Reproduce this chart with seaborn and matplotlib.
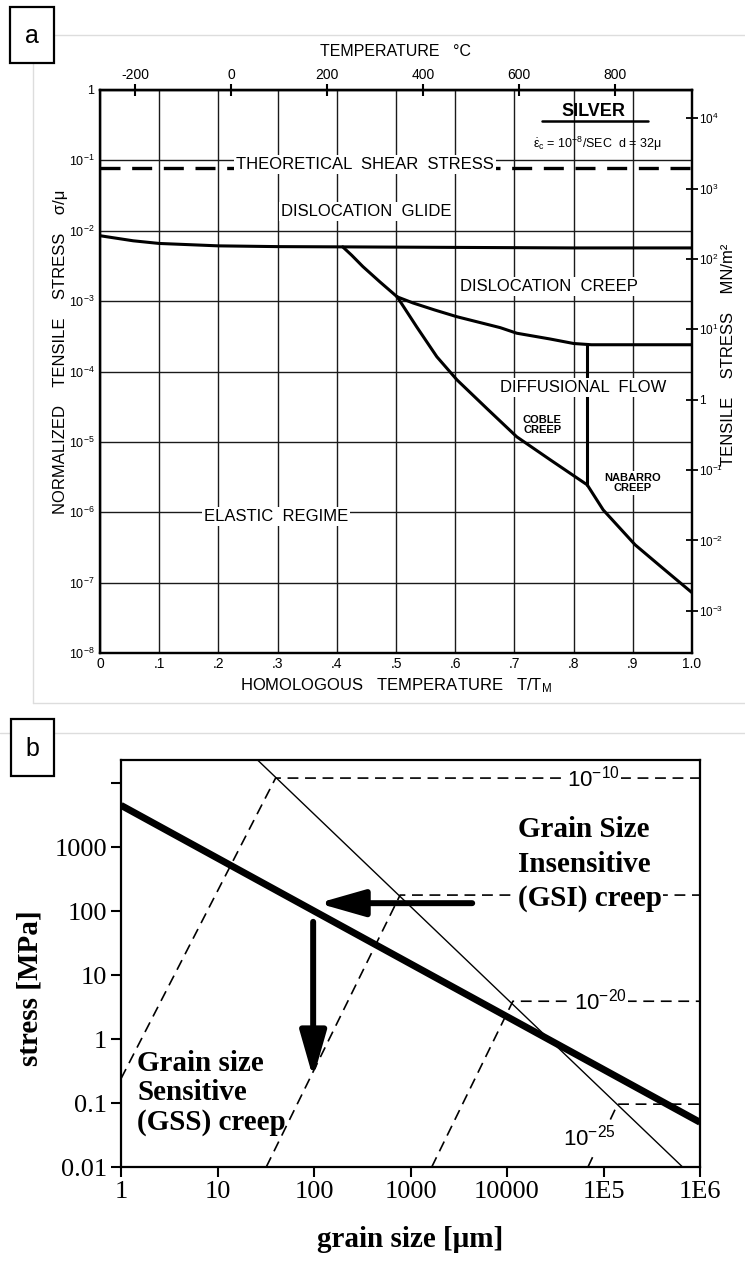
import numpy as np
import pandas as pd
import matplotlib
matplotlib.use("Agg")
import matplotlib.pyplot as plt
from matplotlib.lines import Line2D
from matplotlib.patches import Rectangle
from matplotlib.ticker import NullLocator
import seaborn as sns

# ================= Panel a : deformation-mechanism map, silver =================
T_MELT_K = 1234.0          # melting point of silver (K) for the top axis
MU_MN = 10 ** 4.4          # modulus factor for right axis (MN/m^2)

hom_ticks = [0.0, 0.1, 0.2, 0.3, 0.4, 0.5, 0.6, 0.7, 0.8, 0.9, 1.0]
hom_labels = ["0", ".1", ".2", ".3", ".4", ".5", ".6", ".7", ".8", ".9", "1.0"]
temp_ticks = [-200, 0, 200, 400, 600, 800]
temp_labels = ["-200", "0", "200", "400", "600", "800"]
norm_ticks = [1, 1e-1, 1e-2, 1e-3, 1e-4, 1e-5, 1e-6, 1e-7, 1e-8]
norm_labels = ["1", r"$10^{-1}$", r"$10^{-2}$", r"$10^{-3}$", r"$10^{-4}$",
               r"$10^{-5}$", r"$10^{-6}$", r"$10^{-7}$", r"$10^{-8}$"]
tensile_ticks = [1e4, 1e3, 1e2, 1e1, 1, 1e-1, 1e-2, 1e-3]
tensile_labels = [r"$10^{4}$", r"$10^{3}$", r"$10^{2}$", r"$10^{1}$", "1",
                  r"$10^{-1}$", r"$10^{-2}$", r"$10^{-3}$"]

theory_T = [0.0, 1.0]
theory_s = [0.078, 0.078]

glide_T = [0.0, 0.056, 0.1, 0.2, 0.3, 0.41, 0.6, 0.8, 1.0]
glide_s = [8.5e-3, 7.2e-3, 6.6e-3, 6.1e-3, 5.95e-3, 5.9e-3, 5.8e-3, 5.7e-3, 5.7e-3]

plc_T = [0.41, 0.425, 0.444, 0.473, 0.502]
plc_s = [5.9e-3, 4.5e-3, 3.1e-3, 1.87e-3, 1.15e-3]

elastic_T = [0.502, 0.535, 0.569, 0.603, 0.654, 0.704, 0.76, 0.823, 0.850, 0.904, 0.95, 1.0]
elastic_s = [1.15e-3, 4.3e-4, 1.62e-4, 7.6e-5, 2.95e-5, 1.18e-5, 5.6e-6, 2.45e-6,
             1.08e-6, 3.44e-7, 1.62e-7, 7.2e-8]

creep_T = [0.502, 0.529, 0.565, 0.603, 0.676, 0.704, 0.76, 0.80, 0.83, 1.0]
creep_s = [1.15e-3, 9.4e-4, 7.5e-4, 6.0e-4, 4.2e-4, 3.5e-4, 2.9e-4, 2.5e-4, 2.4e-4, 2.4e-4]

coble_T = [0.823, 0.823]
coble_s = [2.4e-4, 2.45e-6]

# ================= Panel b : stress vs grain size =================
grain_ticks = [1, 10, 100, 1e3, 1e4, 1e5, 1e6]
grain_labels = ["1", "10", "100", "1000", "10000", "1E5", "1E6"]
stress_ticks = [0.01, 0.1, 1, 10, 100, 1000, 1e4]
stress_labels = ["0.01", "0.1", "1", "10", "100", "1000", ""]

piezo_d = [1, 1e6]
piezo_s = [4500, 0.05]
gsi_gss_d = [26, 6.6e5]
gsi_gss_s = [2.3e4, 0.01]

rate_labels = [r"$10^{-10}$", "", r"$10^{-20}$", r"$10^{-25}$"]
rate_d = [[1, 40, 1e6], [32, 780, 1e6], [1660, 1.15e4, 1e6], [6.9e4, 1.4e5, 1e6]]
rate_s = [[0.24, 1.2e4, 1.2e4], [0.01, 178, 178], [0.01, 3.9, 3.9], [0.01, 0.096, 0.096]]

arrow_h_d = [4360, 110]
arrow_h_s = [133, 133]
arrow_v_d = [98, 98]
arrow_v_s = [68, 0.245]

# ---------------------------------------------------------------------
sns.set_style("white")
plt.rcParams.update({
    "font.family": ["Liberation Sans", "DejaVu Sans"],
    "mathtext.default": "regular",
    "axes.edgecolor": "black",
    "text.color": "black",
    "xtick.color": "black",
    "ytick.color": "black",
    "axes.labelcolor": "black",
})

W, H = 745, 1272
fig = plt.figure(figsize=(W / 100, H / 100), dpi=100)
fig.patch.set_facecolor("white")


def fx(px):
    return px / W


def fy(py):
    return 1 - py / H


# light frames around the panels
gray = "#dddddd"
for xs, ys in [([54, 745], [35, 35]), ([33, 33], [63, 703]), ([33, 745], [703, 703]),
               ([0, 745], [733, 733])]:
    fig.add_artist(Line2D([fx(v) for v in xs], [fy(v) for v in ys], color=gray, lw=1.0,
                          transform=fig.transFigure, zorder=0))

for lab, (x0, y0, x1, y1) in [("a", (10, 7, 54, 63)), ("b", (11, 719, 54, 776))]:
    fig.add_artist(Rectangle((fx(x0), fy(y1)), (x1 - x0) / W, (y1 - y0) / H,
                             transform=fig.transFigure, facecolor="white",
                             edgecolor="black", lw=1.6, zorder=5))
    fig.text(fx((x0 + x1) / 2), fy((y0 + y1) / 2 + 1), lab, ha="center", va="center",
             fontsize=18, zorder=6)

# ------------------------------ panel a ------------------------------
axA = fig.add_axes([fx(100), fy(653), 592 / W, 563 / H])
axA.set_yscale("log")
axA.set_xlim(0, 1)
axA.set_ylim(1e-8, 1)
axA.set_xticks(hom_ticks, hom_labels)
axA.set_yticks(norm_ticks, norm_labels)
axA.yaxis.set_minor_locator(NullLocator())
axA.grid(True, which="major", color="#1a1a1a", lw=1.0)
axA.tick_params(axis="x", length=0, labelsize=10, pad=3)
axA.tick_params(axis="y", length=0, labelsize=9, pad=4)
for sp in axA.spines.values():
    sp.set_linewidth(1.6)

ink = "black"
sns.lineplot(x=theory_T, y=theory_s, ax=axA, color=ink, lw=2.4,
             linestyle=(0, (6, 3.5)), estimator=None, sort=False)
for xs, ys in [(glide_T, glide_s), (plc_T, plc_s), (elastic_T, elastic_s),
               (creep_T, creep_s), (coble_T, coble_s)]:
    sns.lineplot(x=xs, y=ys, ax=axA, color=ink, lw=2.2, estimator=None, sort=False)

box = dict(facecolor="white", edgecolor="none", pad=1.5)
txt = dict(ha="center", va="center", fontsize=12, bbox=box, zorder=4)
axA.text(0.448, 0.086, "THEORETICAL  SHEAR  STRESS", **txt)
axA.text(0.449, 0.0185, "DISLOCATION  GLIDE", **txt)
axA.text(0.759, 1.6e-3, "DISLOCATION  CREEP", **txt)
axA.text(0.816, 6.0e-5, "DIFFUSIONAL  FLOW", **txt)
axA.text(0.297, 8.6e-7, "ELASTIC  REGIME", **txt)
axA.text(0.747, 1.74e-5, "COBLE\nCREEP", ha="center", va="center", fontsize=8,
         fontweight="bold", linespacing=1.0, bbox=box, zorder=4)
axA.text(0.90, 2.6e-6, "NABARRO\nCREEP", ha="center", va="center", fontsize=8,
         fontweight="bold", linespacing=1.0, bbox=box, zorder=4)
axA.text(0.834, 0.50, "SILVER", ha="center", va="center", fontsize=13,
         fontweight="bold", zorder=4)
axA.plot([0.747, 0.926], [0.36, 0.36], color=ink, lw=1.8, transform=axA.transData)
axA.text(0.84, 0.172, r"$\dot{\epsilon}_c$ = $10^{-8}$/SEC  d = 32$\mu$", ha="center",
         va="center", fontsize=9, zorder=4)

axA.text(-0.066, 0.535, "NORMALIZED    TENSILE    STRESS    σ/μ", rotation=90,
         ha="center", va="center", fontsize=12, transform=axA.transAxes)
axA.text(1.062, 0.529, "TENSILE    STRESS    MN/m²", rotation=90,
         ha="center", va="center", fontsize=12, transform=axA.transAxes)
axA.text(0.50, 1.068, "TEMPERATURE   °C", ha="center", va="center", fontsize=11.5,
         transform=axA.transAxes)
axA.text(0.50, -0.058, "HOMOLOGOUS   TEMPERATURE   T/T$_M$", ha="center", va="center",
         fontsize=12, transform=axA.transAxes)

top = axA.secondary_xaxis("top", functions=(lambda h: h * T_MELT_K - 273.0,
                                            lambda c: (c + 273.0) / T_MELT_K))
top.set_xticks(temp_ticks, temp_labels)
top.tick_params(direction="inout", length=8, width=1.5, labelsize=10, pad=2)
top.spines["top"].set_linewidth(1.6)

axR = axA.twinx()
axR.set_yscale("log")
axR.set_ylim(1e-8 * MU_MN, 1 * MU_MN)
axR.set_yticks(tensile_ticks, tensile_labels)
axR.yaxis.set_minor_locator(NullLocator())
axR.tick_params(direction="inout", length=8, width=1.3, labelsize=8.5, pad=1)
axR.grid(False)
for sp in axR.spines.values():
    sp.set_linewidth(1.6)

# ------------------------------ panel b ------------------------------
serif = ["Liberation Serif", "DejaVu Serif"]
axB = fig.add_axes([fx(121), fy(1167), 579 / W, 407 / H])
axB.set_xscale("log")
axB.set_yscale("log")
axB.set_xlim(1, 1e6)
axB.set_ylim(0.01, 2.3e4)
axB.set_xticks(grain_ticks, grain_labels)
axB.set_yticks(stress_ticks, stress_labels)
axB.xaxis.set_minor_locator(NullLocator())
axB.yaxis.set_minor_locator(NullLocator())
axB.tick_params(direction="out", length=7, width=1.5, labelsize=19, pad=3,
                top=False, right=False, left=True, bottom=True)
for lbl in axB.get_xticklabels() + axB.get_yticklabels():
    lbl.set_family(serif)
for sp in axB.spines.values():
    sp.set_linewidth(1.6)
axB.grid(False)

for ds, ss in zip(rate_d, rate_s):
    sns.lineplot(x=ds, y=ss, ax=axB, color=ink, lw=1.2, linestyle=(0, (6.5, 4)),
                 estimator=None, sort=False)
sns.lineplot(x=gsi_gss_d, y=gsi_gss_s, ax=axB, color=ink, lw=1.0, estimator=None, sort=False)
sns.lineplot(x=piezo_d, y=piezo_s, ax=axB, color=ink, lw=5.0, estimator=None, sort=False,
             solid_capstyle="butt")

arrow_kw = dict(arrowstyle="-|>,head_length=28,head_width=8", mutation_scale=1,
                lw=4.3, color=ink, shrinkA=0, shrinkB=0)
axB.annotate("", xy=(arrow_h_d[1], arrow_h_s[1]), xytext=(arrow_h_d[0], arrow_h_s[0]),
             arrowprops=arrow_kw)
axB.annotate("", xy=(arrow_v_d[1], arrow_v_s[1]), xytext=(arrow_v_d[0], arrow_v_s[0]),
             arrowprops=arrow_kw)

lab_box = dict(facecolor="white", edgecolor="none", pad=1.0)
axB.text(7.8e4, 1.2e4, rate_labels[0], ha="center", va="center", fontsize=16,
         bbox=lab_box, zorder=4)
axB.text(9.2e4, 3.9, rate_labels[2], ha="center", va="center", fontsize=16,
         bbox=lab_box, zorder=4)
axB.text(7.2e4, 0.029, rate_labels[3], ha="center", va="center", fontsize=16,
         bbox=lab_box, zorder=4)

axB.text(1.3e4, 537, "Grain Size\nInsensitive\n(GSI) creep", ha="left", va="center",
         fontsize=21, fontweight="bold", family=serif, linespacing=1.35,
         bbox=dict(facecolor="white", edgecolor="none", pad=1.0), zorder=4)
axB.text(1.47, 0.143, "Grain size\nSensitive\n(GSS) creep", ha="left", va="center",
         fontsize=21, fontweight="bold", family=serif, linespacing=1.12, zorder=4)

axB.text(0.5, -0.179, "grain size [μm]", ha="center", va="center", fontsize=21,
         fontweight="bold", family=serif, transform=axB.transAxes)
axB.text(-0.157, 0.44, "stress [MPa]", rotation=90, ha="center", va="center",
         fontsize=21, fontweight="bold", family=serif, transform=axB.transAxes)

fig.savefig("out.png", dpi=100)
